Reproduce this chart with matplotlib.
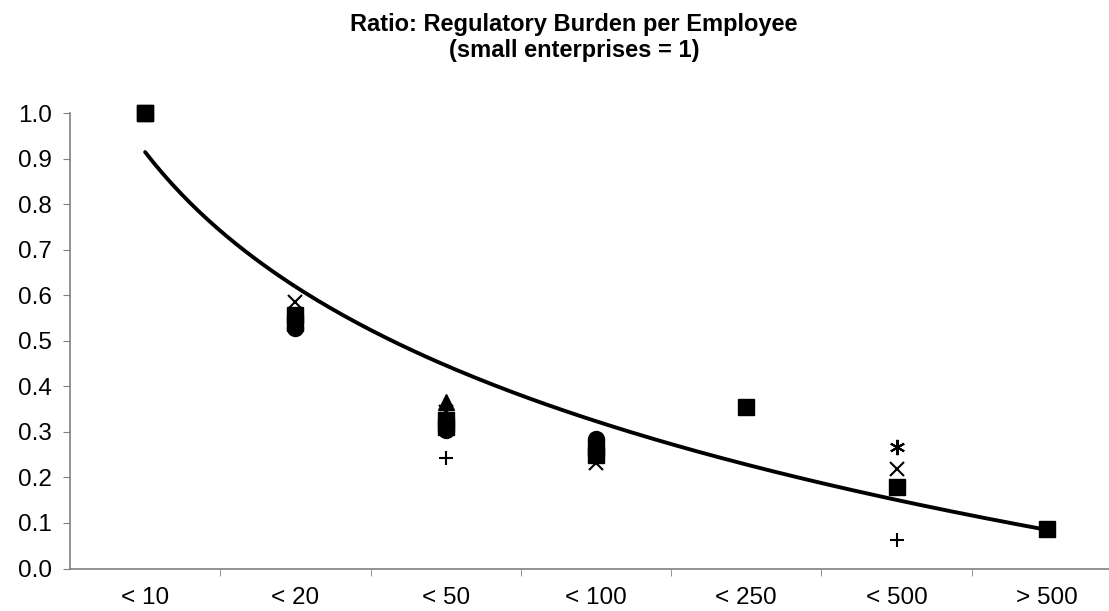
import numpy as np
import matplotlib
matplotlib.use("Agg")
import matplotlib.pyplot as plt

categories = ["< 10", "< 20", "< 50", "< 100", "< 250", "< 500", "> 500"]
nan = np.nan
series_square_a = [1.0, 0.556, 0.325, 0.265, 0.354, 0.180, 0.086]
series_square_b = [1.0, 0.540, 0.310, 0.250, nan, nan, nan]
series_circle = [nan, 0.527, 0.305, 0.285, nan, nan, nan]
series_triangle = [nan, nan, 0.365, nan, nan, nan, nan]
series_x = [nan, 0.585, 0.343, 0.232, nan, 0.218, nan]
series_star = [nan, nan, nan, nan, nan, 0.266, nan]
series_plus = [nan, nan, 0.242, nan, nan, 0.062, nan]

plt.rcParams['font.family'] = ['Liberation Sans', 'DejaVu Sans']

fig = plt.figure(figsize=(11.09, 6.11), dpi=100)
ax = fig.add_axes([70/1109, 1-568.5/611, (1122-70)/1109, (568.5-113)/611])

xs = np.arange(len(categories))
kw = dict(color='black', clip_on=False, ls='none')
ax.plot(xs, series_circle, marker='o', ms=11.5, zorder=3, **kw)
ax.plot(xs, series_triangle, marker='^', ms=11.5, zorder=3, **kw)
ax.plot(xs, series_square_b, marker='s', ms=11.5, zorder=4, **kw)
ax.plot(xs, series_square_a, marker='s', ms=11.5, zorder=4, **kw)
ax.plot(xs, series_x, marker='x', ms=10, mew=1.5, zorder=5, **kw)
ax.plot(xs, series_star, marker=(6, 2, 0), ms=11, mew=1.5, zorder=5, **kw)
ax.plot(xs, series_plus, marker='+', ms=10.5, mew=1.5, zorder=5, **kw)

# logarithmic trend fitted on main series
lx = np.log(xs + 1)
b, a = np.polyfit(lx, series_square_a, 1)
xt = np.linspace(0, 6, 200)
ax.plot(xt, a + b * np.log(xt + 1), color='black', lw=2.8, zorder=2,
        solid_capstyle='round')

ax.set_xlim(-0.5, 6.5)
ax.set_ylim(0, 1.0)
yt = np.arange(0, 1.01, 0.1)
ax.set_yticks(yt)
ax.set_yticklabels([f"{v:.1f}" for v in yt])
ax.set_xticks(xs)
ax.set_xticklabels(categories)
ax.set_xticks(np.arange(0.5, 6.5, 1.0), minor=True)
ax.tick_params(axis='x', which='major', length=0, pad=13.5, labelsize=17.5)
ax.tick_params(axis='x', which='minor', length=5, color='#808080', direction='out')
ax.tick_params(axis='y', length=5, color='#808080', labelsize=17.5, pad=8)
for s in ['top', 'right']:
    ax.spines[s].set_visible(False)
for s in ['left', 'bottom']:
    ax.spines[s].set_color('#808080')
    ax.spines[s].set_linewidth(1.2)

fig.text(574/1109, 1-31/611, "Ratio: Regulatory Burden per Employee", ha='center', va='baseline',
         fontsize=17, fontweight='bold')
fig.text(574/1109, 1-57/611, "(small enterprises = 1)", ha='center', va='baseline',
         fontsize=17, fontweight='bold')

fig.savefig("out.png", dpi=100)
